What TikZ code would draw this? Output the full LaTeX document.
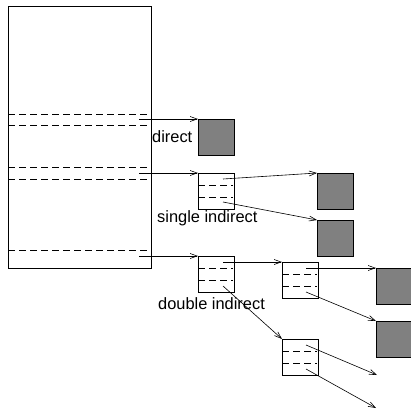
\documentclass[tikz,border=0pt]{standalone}
\usepackage{fontspec}
\setmainfont{Liberation Sans}
\usetikzlibrary{arrows.meta,calc}
\definecolor{blockgray}{HTML}{808080}
\tikzset{
  blk/.style={draw, line width=0.8pt, minimum width=36pt, minimum height=36pt,
    inner sep=0pt, outer sep=0pt, anchor=north west},
  datablk/.style={blk, fill=blockgray},
  slotline/.style={dash pattern=on 7pt off 4pt, line width=0.7pt},
  ptrblk/.style={blk, path picture={
      \draw[slotline] ($(path picture bounding box.north west)+(0,12)$) -- ++(35,0);
      \draw[slotline] ($(path picture bounding box.north west)+(0,24)$) -- ++(35,0);}},
  ptr/.style={line width=0.6pt, -{Straight Barb[length=7pt,width=5pt]}},
  lbl/.style={font=\fontsize{16.4}{18}\selectfont, inner sep=0pt}
}
\begin{document}
\begin{tikzpicture}[x=1pt,y=-1pt]
\useasboundingbox (0,0) rectangle (410,410);

% inode
\node[draw, line width=0.8pt, minimum width=143pt, minimum height=262pt,
  inner sep=0pt, outer sep=0pt, anchor=north west] (inode) at (8,6) {};
\foreach \y in {114,125,167,179,250}
  \draw[slotline] (8,\y) -- (147,\y);
\coordinate (p-direct) at (139,119);
\coordinate (p-single) at (139,173);
\coordinate (p-double) at (139,256);

% first level
\node[datablk] (direct) at (198,119) {};
\node[ptrblk] (single) at (198,173) {};
\node[ptrblk] (double) at (198,256) {};
\node[lbl, anchor=west] (t-direct) at (152,137) {direct};
\node[lbl, anchor=west] (t-single) at (157,218) {single indirect};
\node[lbl, anchor=west] (t-double) at (158,304) {double indirect};

% blocks reached through single indirect
\node[datablk] (s1) at (317,173) {};
\node[datablk] (s2) at (317,220) {};

% blocks reached through double indirect
\node[ptrblk] (d1) at (282,262) {};
\node[ptrblk] (d2) at (282,339) {};
\node[datablk] (d11) at (376,268) {};
\node[datablk] (d12) at (376,321) {};
\coordinate (d21) at (377,375);
\coordinate (d22) at (376,408);

% pointers
\draw[ptr] (p-direct) -- (direct.north west);
\draw[ptr] (p-single) -- (single.north west);
\draw[ptr] (p-double) -- (double.north west);

\draw[ptr] ($(single.north west)+(25,6)$) -- (s1.north west);
\draw[ptr] ($(single.north west)+(25,29)$) -- (s2.north west);

\draw[ptr] ($(double.north west)+(25,6)$) -- (d1.north west);
\draw[ptr] ($(double.north west)+(25,30)$) -- (d2.north west);

\draw[ptr] ($(d1.north west)+(24,6)$) -- (d11.north west);
\draw[ptr] ($(d1.north west)+(24,30)$) -- (d12.north west);
\draw[ptr] ($(d2.north west)+(24,6)$) -- (d21);
\draw[ptr] ($(d2.north west)+(24,30)$) -- (d22);
\end{tikzpicture}
\end{document}
